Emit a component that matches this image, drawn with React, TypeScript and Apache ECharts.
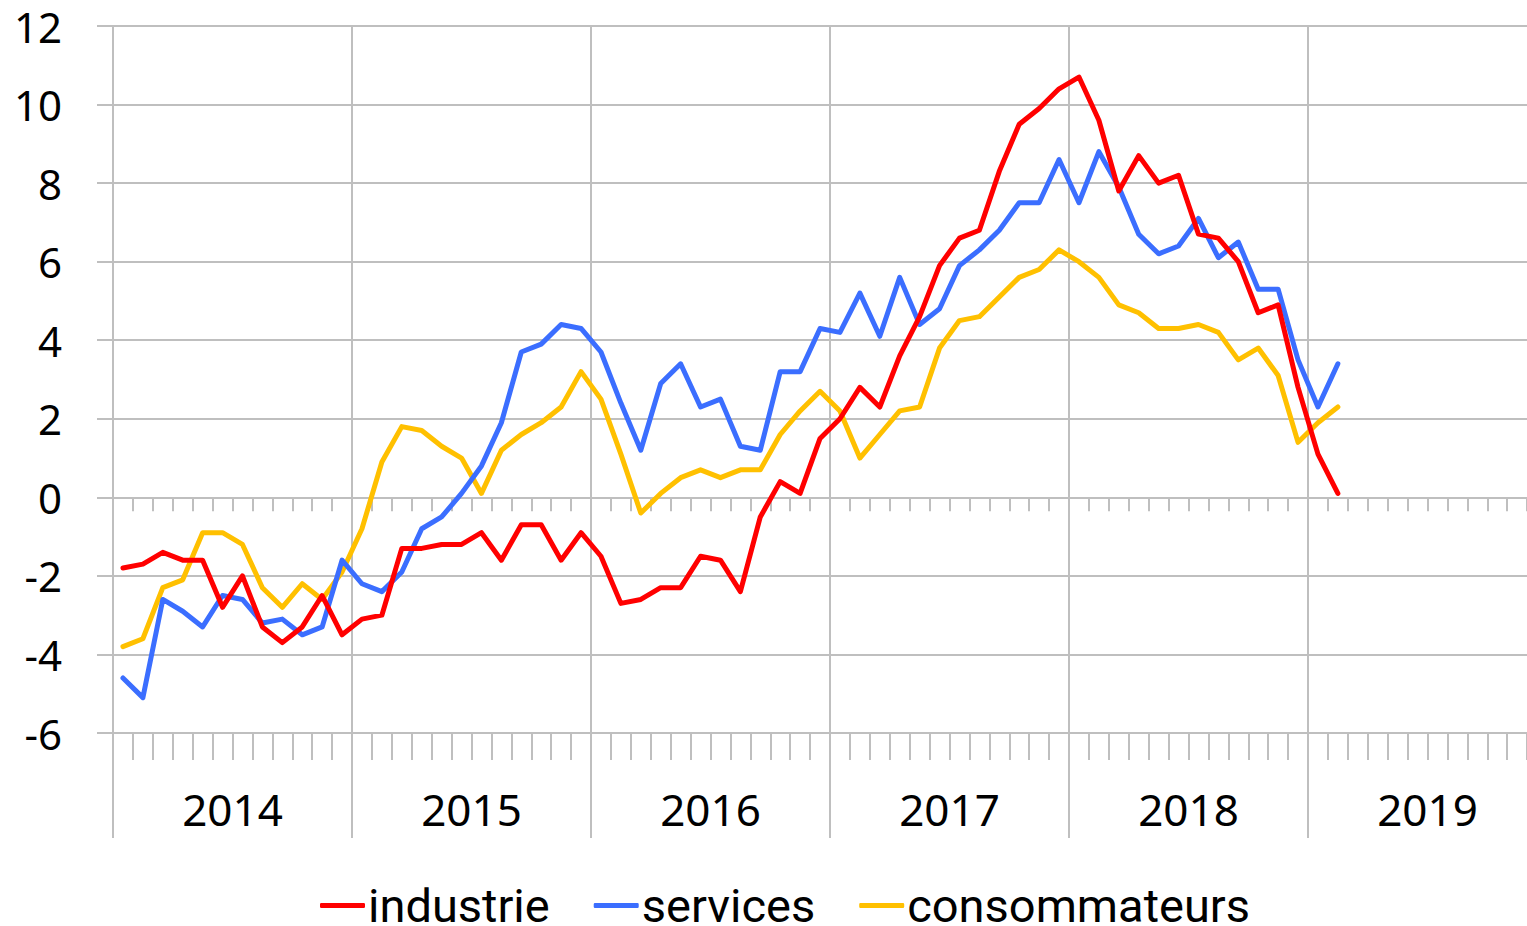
import React, { useEffect, useRef } from "react";
import * as echarts from "echarts";

const years = ["2014", "2015", "2016", "2017", "2018", "2019"];
const months = ["01", "02", "03", "04", "05", "06", "07", "08", "09", "10", "11", "12"];
const monthCategories = years.flatMap((y) => months.map((m) => `${y}-${m}`));

const industrie = [
  -1.8, -1.7, -1.4, -1.6, -1.6, -2.8, -2.0, -3.3, -3.7, -3.3, -2.5, -3.5,
  -3.1, -3.0, -1.3, -1.3, -1.2, -1.2, -0.9, -1.6, -0.7, -0.7, -1.6, -0.9,
  -1.5, -2.7, -2.6, -2.3, -2.3, -1.5, -1.6, -2.4, -0.5, 0.4, 0.1, 1.5,
  2.0, 2.8, 2.3, 3.6, 4.6, 5.9, 6.6, 6.8, 8.3, 9.5, 9.9, 10.4,
  10.7, 9.6, 7.8, 8.7, 8.0, 8.2, 6.7, 6.6, 6.0, 4.7, 4.9, 2.8,
  1.1, 0.1,
];

const services = [
  -4.6, -5.1, -2.6, -2.9, -3.3, -2.5, -2.6, -3.2, -3.1, -3.5, -3.3, -1.6,
  -2.2, -2.4, -1.9, -0.8, -0.5, 0.1, 0.8, 1.9, 3.7, 3.9, 4.4, 4.3,
  3.7, 2.4, 1.2, 2.9, 3.4, 2.3, 2.5, 1.3, 1.2, 3.2, 3.2, 4.3,
  4.2, 5.2, 4.1, 5.6, 4.4, 4.8, 5.9, 6.3, 6.8, 7.5, 7.5, 8.6,
  7.5, 8.8, 7.9, 6.7, 6.2, 6.4, 7.1, 6.1, 6.5, 5.3, 5.3, 3.5,
  2.3, 3.4,
];

const consommateurs = [
  -3.8, -3.6, -2.3, -2.1, -0.9, -0.9, -1.2, -2.3, -2.8, -2.2, -2.6, -1.9,
  -0.8, 0.9, 1.8, 1.7, 1.3, 1.0, 0.1, 1.2, 1.6, 1.9, 2.3, 3.2,
  2.5, 1.1, -0.4, 0.1, 0.5, 0.7, 0.5, 0.7, 0.7, 1.6, 2.2, 2.7,
  2.2, 1.0, 1.6, 2.2, 2.3, 3.8, 4.5, 4.6, 5.1, 5.6, 5.8, 6.3,
  6.0, 5.6, 4.9, 4.7, 4.3, 4.3, 4.4, 4.2, 3.5, 3.8, 3.1, 1.4,
  1.9, 2.3,
];

const seriesNames = ["industrie", "services", "consommateurs"];
const seriesColors = ["#ff0000", "#3b6eff", "#ffc000"];

const GRID = "#bfbfbf";
const NUM_FONT = "'Noto Sans', 'DejaVu Sans', sans-serif";
const LEGEND_FONT = "'Liberation Sans Narrow', 'Roboto', sans-serif";

export default function App() {
  const ref = useRef<HTMLDivElement>(null);

  useEffect(() => {
    if (!ref.current) return;
    const chart = echarts.init(ref.current, undefined, { renderer: "svg" });
    const dataSets = [industrie, services, consommateurs];
    chart.setOption({
      animation: false,
      backgroundColor: "#ffffff",
      grid: { left: 113, right: 0, top: 26, bottom: 193, containLabel: false },
      legend: {
        left: 320,
        top: 882,
        padding: 0,
        itemGap: 44,
        itemWidth: 45,
        itemHeight: 5,
        icon: "roundRect",
        textStyle: {
          fontFamily: LEGEND_FONT,
          fontSize: 47,
          lineHeight: 44,
          color: "#000000",
          padding: [0, 0, 0, -2],
        },
        data: seriesNames,
      },
      xAxis: [
        {
          type: "category",
          data: monthCategories,
          boundaryGap: true,
          position: "bottom",
          axisLine: { show: true, onZero: true, lineStyle: { color: GRID, width: 2 } },
          axisTick: { show: true, interval: 0, length: 14, lineStyle: { color: GRID, width: 2 } },
          axisLabel: { show: false },
          splitLine: { show: false },
        },
        {
          type: "category",
          data: monthCategories,
          boundaryGap: true,
          position: "bottom",
          axisLine: { show: false, onZero: false },
          axisTick: { show: true, interval: 0, length: 27, lineStyle: { color: GRID, width: 2 } },
          axisLabel: { show: false },
          splitLine: { show: false },
        },
        {
          type: "category",
          data: years,
          boundaryGap: true,
          position: "bottom",
          axisLine: { show: false, onZero: false },
          axisTick: { show: true, interval: 0, length: 105, lineStyle: { color: GRID, width: 2 } },
          axisLabel: {
            show: true,
            interval: 0,
            margin: 54,
            fontFamily: NUM_FONT,
            fontSize: 44,
            color: "#000000",
          },
          splitLine: { show: true, interval: 0, lineStyle: { color: GRID, width: 2 } },
        },
      ],
      yAxis: {
        type: "value",
        min: -6,
        max: 12,
        interval: 2,
        axisLine: { show: false },
        axisTick: { show: true, length: 16, lineStyle: { color: GRID, width: 2 } },
        axisLabel: { margin: 51, fontFamily: NUM_FONT, fontSize: 42, lineHeight: 36, color: "#000000" },
        splitLine: { show: true, lineStyle: { color: GRID, width: 2 } },
      },
      series: seriesNames.map((name, i) => ({
        name,
        type: "line",
        xAxisIndex: 0,
        data: dataSets[i],
        symbol: "none",
        color: seriesColors[i],
        lineStyle: { width: 5, color: seriesColors[i], cap: "round", join: "round" },
        z: 10 - i,
      })),
    });
    return () => chart.dispose();
  }, []);

  return (
    <div
      style={{
        position: "absolute",
        left: 0,
        top: 0,
        width: 1527,
        height: 926,
        overflow: "hidden",
        background: "#fff",
      }}
    >
      <div ref={ref} style={{ width: 1547, height: 926 }} />
    </div>
  );
}
